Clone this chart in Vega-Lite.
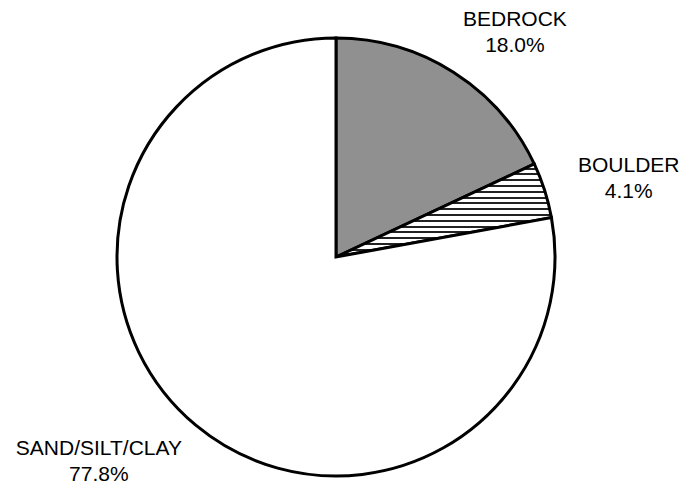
{
  "$schema": "https://vega.github.io/schema/vega-lite/v6.json",
  "width": 672,
  "height": 464,
  "autosize": {"type": "none"},
  "padding": {"top": 25, "left": 0, "right": 14, "bottom": 0},
  "background": "white",
  "view": {"stroke": null},
  "data": {
    "values": [
      {"o": 1, "type": "BEDROCK", "value": 18.0, "label": "BEDROCK\n18.0%"},
      {"o": 2, "type": "BOULDER", "value": 4.1, "label": "BOULDER\n4.1%"},
      {"o": 3, "type": "SAND/SILT/CLAY", "value": 77.8, "label": "SAND/SILT/CLAY\n77.8%"}
    ]
  },
  "encoding": {
    "theta": {"field": "value", "type": "quantitative", "stack": true},
    "order": {"field": "o", "type": "quantitative"},
    "detail": {"field": "type", "type": "nominal"}
  },
  "layer": [
    {
      "mark": {"type": "arc", "outerRadius": 219, "stroke": "black", "strokeWidth": 3},
      "encoding": {
        "fill": {
          "condition": [
            {"test": "datum.type === 'BEDROCK'", "value": "#909090"},
            {"test": "datum.type === 'BOULDER'", "value": {
              "gradient": "linear", "x1": 0, "y1": 0, "x2": 0, "y2": 1,
              "stops": [
                {"offset": 0, "color": "white"},
                {"offset": 0.0388, "color": "white"}, {"offset": 0.0388, "color": "#222222"}, {"offset": 0.0598, "color": "#222222"}, {"offset": 0.0598, "color": "white"},
                {"offset": 0.1012, "color": "white"}, {"offset": 0.1012, "color": "#222222"}, {"offset": 0.1222, "color": "#222222"}, {"offset": 0.1222, "color": "white"},
                {"offset": 0.1636, "color": "white"}, {"offset": 0.1636, "color": "#222222"}, {"offset": 0.1846, "color": "#222222"}, {"offset": 0.1846, "color": "white"},
                {"offset": 0.2260, "color": "white"}, {"offset": 0.2260, "color": "#222222"}, {"offset": 0.2470, "color": "#222222"}, {"offset": 0.2470, "color": "white"},
                {"offset": 0.2884, "color": "white"}, {"offset": 0.2884, "color": "#222222"}, {"offset": 0.3094, "color": "#222222"}, {"offset": 0.3094, "color": "white"},
                {"offset": 0.3508, "color": "white"}, {"offset": 0.3508, "color": "#222222"}, {"offset": 0.3718, "color": "#222222"}, {"offset": 0.3718, "color": "white"},
                {"offset": 0.4132, "color": "white"}, {"offset": 0.4132, "color": "#222222"}, {"offset": 0.4342, "color": "#222222"}, {"offset": 0.4342, "color": "white"},
                {"offset": 0.4756, "color": "white"}, {"offset": 0.4756, "color": "#222222"}, {"offset": 0.4966, "color": "#222222"}, {"offset": 0.4966, "color": "white"},
                {"offset": 0.5380, "color": "white"}, {"offset": 0.5380, "color": "#222222"}, {"offset": 0.5590, "color": "#222222"}, {"offset": 0.5590, "color": "white"},
                {"offset": 0.6004, "color": "white"}, {"offset": 0.6004, "color": "#222222"}, {"offset": 0.6214, "color": "#222222"}, {"offset": 0.6214, "color": "white"},
                {"offset": 0.6628, "color": "white"}, {"offset": 0.6628, "color": "#222222"}, {"offset": 0.6838, "color": "#222222"}, {"offset": 0.6838, "color": "white"},
                {"offset": 0.7252, "color": "white"}, {"offset": 0.7252, "color": "#222222"}, {"offset": 0.7462, "color": "#222222"}, {"offset": 0.7462, "color": "white"},
                {"offset": 0.7876, "color": "white"}, {"offset": 0.7876, "color": "#222222"}, {"offset": 0.8086, "color": "#222222"}, {"offset": 0.8086, "color": "white"},
                {"offset": 0.8500, "color": "white"}, {"offset": 0.8500, "color": "#222222"}, {"offset": 0.8710, "color": "#222222"}, {"offset": 0.8710, "color": "white"},
                {"offset": 0.9124, "color": "white"}, {"offset": 0.9124, "color": "#222222"}, {"offset": 0.9334, "color": "#222222"}, {"offset": 0.9334, "color": "white"},
                {"offset": 0.9748, "color": "white"}, {"offset": 0.9748, "color": "#222222"}, {"offset": 0.9958, "color": "#222222"}, {"offset": 0.9958, "color": "white"},
                {"offset": 1, "color": "white"}
              ]
            }}
          ],
          "value": "white"
        }
      }
    },
    {
      "mark": {
        "type": "text",
        "radius": 300,
        "font": "Liberation Sans",
        "fontSize": 21,
        "lineHeight": 26,
        "lineBreak": "\n",
        "align": "center",
        "baseline": "middle",
        "color": "black",
        "dx": {"expr": "datum.type === 'BEDROCK' ? 18 : datum.type === 'BOULDER' ? 7 : -45"},
        "dy": {"expr": "datum.type === 'BEDROCK' ? 16 : datum.type === 'BOULDER' ? 0 : -38"}
      },
      "encoding": {
        "text": {"field": "label", "type": "nominal"}
      }
    }
  ]
}
